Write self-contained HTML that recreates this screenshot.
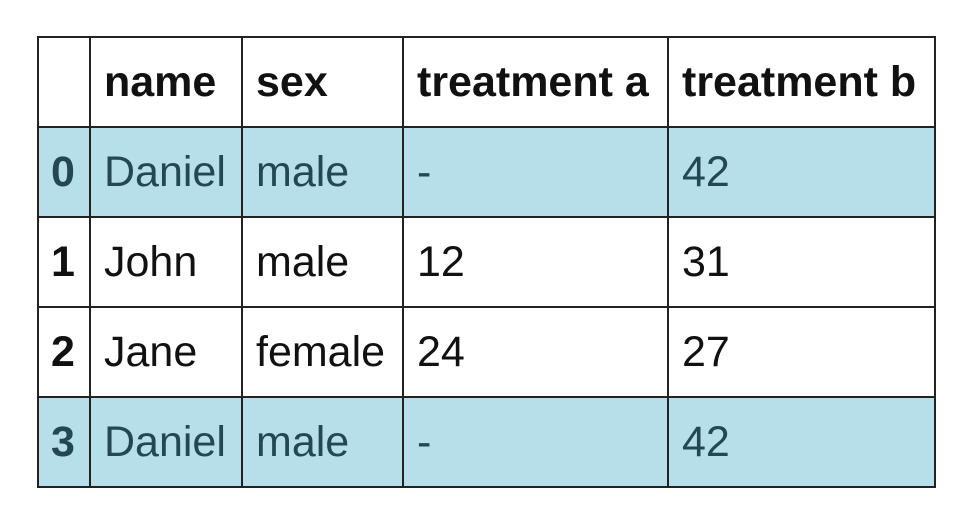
<!DOCTYPE html>
<html><head><meta charset="utf-8"><style>
body{margin:0;width:972px;height:524px;background:#fff;position:relative;overflow:hidden;font-family:"Liberation Sans",sans-serif;}
table{position:absolute;left:37px;top:36px;border-collapse:collapse;font-size:43px;}
td,th{border:2px solid #222;height:88px;padding:0 0 0 13px;text-align:left;white-space:nowrap;color:#111;}
th{font-weight:bold;}
td.idx{font-weight:bold;padding:0 8px 0 12px;}
tr.hl td{background:#b6dfe9;color:#234854;}
</style></head><body>
<table>
<tr><th style="width:37px"></th><th style="width:137px">name</th><th style="width:146px">sex</th><th style="width:250px">treatment a</th><th style="width:252px">treatment b</th></tr>
<tr class="hl"><td class="idx">0</td><td>Daniel</td><td>male</td><td>-</td><td>42</td></tr>
<tr><td class="idx">1</td><td>John</td><td>male</td><td>12</td><td>31</td></tr>
<tr><td class="idx">2</td><td>Jane</td><td>female</td><td>24</td><td>27</td></tr>
<tr class="hl"><td class="idx">3</td><td>Daniel</td><td>male</td><td>-</td><td>42</td></tr>
</table>
</body></html>
